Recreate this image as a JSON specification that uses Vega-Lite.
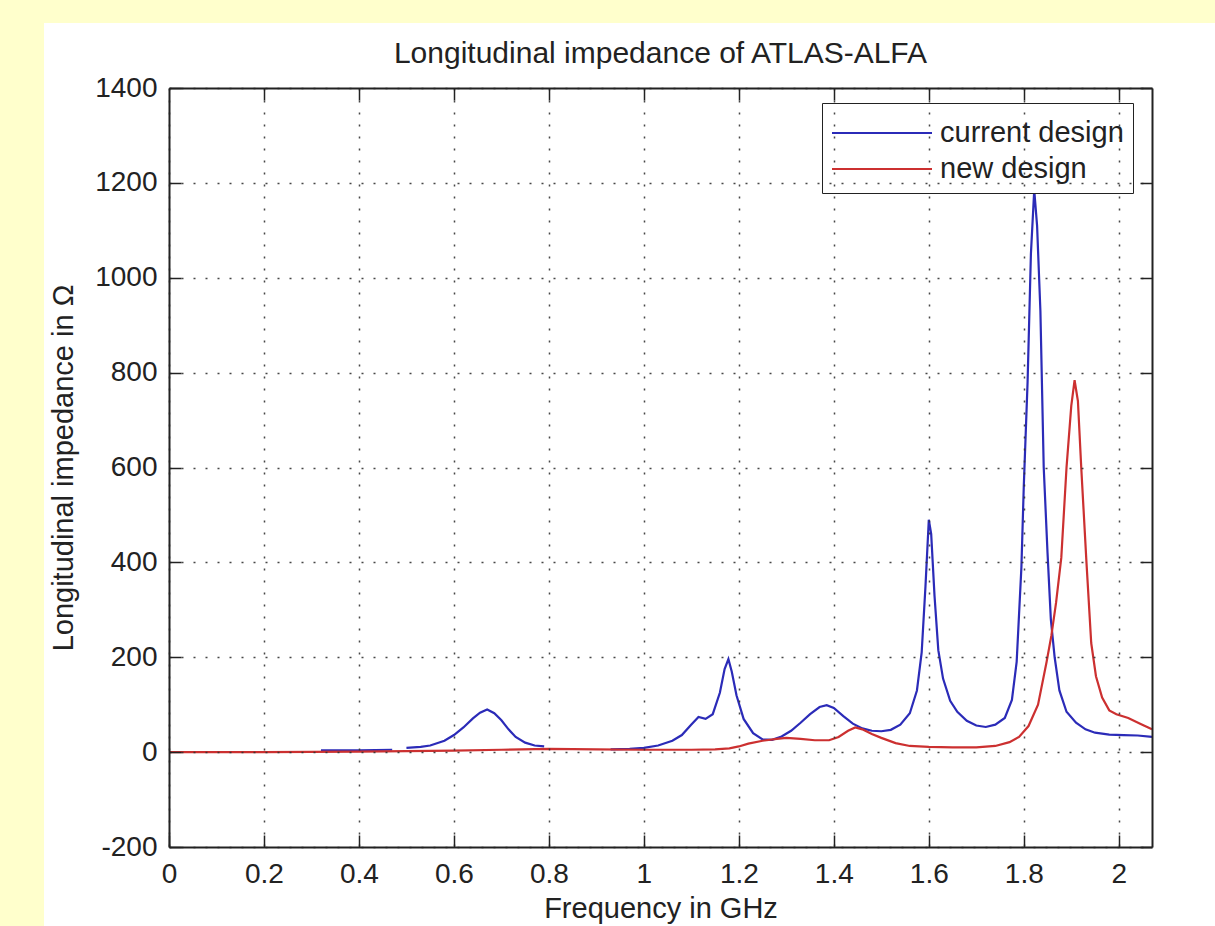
{
  "$schema": "https://vega.github.io/schema/vega-lite/v6.json",
  "autosize": "none",
  "width": 983,
  "height": 759,
  "padding": {"left": 169, "top": 88, "right": 63, "bottom": 79},
  "background": "#FFFFCC",
  "title": {"text": "Longitudinal impedance of ATLAS-ALFA", "fontSize": 30, "font": "Liberation Sans", "fontWeight": "normal", "color": "#222222", "baseline": "alphabetic", "offset": -70, "anchor": "middle"},
  "config": {
    "view": {"stroke": null},
    "axis": {"labelFont": "Liberation Sans", "titleFont": "Liberation Sans", "labelFontSize": 28, "titleFontSize": 29, "titleFontWeight": "normal", "labelColor": "#222222", "titleColor": "#222222", "domainColor": "#222222", "domainWidth": 2, "tickColor": "#222222", "tickWidth": 1.5, "tickSize": -12, "gridColor": "#333333", "gridWidth": 1.5, "gridDash": [2, 10], "gridOpacity": 0.9}
  },
  "datasets": {
    "curves": [
      {"series": "current design", "seg": 1, "f": 0.32, "z": 4},
      {"series": "current design", "seg": 1, "f": 0.40, "z": 4},
      {"series": "current design", "seg": 1, "f": 0.47, "z": 5},
      {"series": "current design", "seg": 2, "f": 0.50, "z": 9},
      {"series": "current design", "seg": 2, "f": 0.53, "z": 11},
      {"series": "current design", "seg": 2, "f": 0.55, "z": 14},
      {"series": "current design", "seg": 2, "f": 0.58, "z": 24},
      {"series": "current design", "seg": 2, "f": 0.60, "z": 36},
      {"series": "current design", "seg": 2, "f": 0.62, "z": 52},
      {"series": "current design", "seg": 2, "f": 0.64, "z": 71},
      {"series": "current design", "seg": 2, "f": 0.655, "z": 83},
      {"series": "current design", "seg": 2, "f": 0.67, "z": 90},
      {"series": "current design", "seg": 2, "f": 0.685, "z": 82},
      {"series": "current design", "seg": 2, "f": 0.70, "z": 67},
      {"series": "current design", "seg": 2, "f": 0.715, "z": 48},
      {"series": "current design", "seg": 2, "f": 0.73, "z": 32},
      {"series": "current design", "seg": 2, "f": 0.75, "z": 20},
      {"series": "current design", "seg": 2, "f": 0.77, "z": 14},
      {"series": "current design", "seg": 2, "f": 0.79, "z": 12},
      {"series": "current design", "seg": 3, "f": 0.93, "z": 6},
      {"series": "current design", "seg": 3, "f": 0.97, "z": 7},
      {"series": "current design", "seg": 3, "f": 1.00, "z": 9},
      {"series": "current design", "seg": 3, "f": 1.03, "z": 14},
      {"series": "current design", "seg": 3, "f": 1.06, "z": 24},
      {"series": "current design", "seg": 3, "f": 1.08, "z": 36},
      {"series": "current design", "seg": 3, "f": 1.10, "z": 58},
      {"series": "current design", "seg": 3, "f": 1.115, "z": 74},
      {"series": "current design", "seg": 3, "f": 1.13, "z": 70},
      {"series": "current design", "seg": 3, "f": 1.145, "z": 80},
      {"series": "current design", "seg": 3, "f": 1.16, "z": 125},
      {"series": "current design", "seg": 3, "f": 1.17, "z": 175},
      {"series": "current design", "seg": 3, "f": 1.178, "z": 196},
      {"series": "current design", "seg": 3, "f": 1.185, "z": 170},
      {"series": "current design", "seg": 3, "f": 1.195, "z": 120},
      {"series": "current design", "seg": 3, "f": 1.21, "z": 70},
      {"series": "current design", "seg": 3, "f": 1.23, "z": 40},
      {"series": "current design", "seg": 3, "f": 1.25, "z": 27},
      {"series": "current design", "seg": 3, "f": 1.27, "z": 26},
      {"series": "current design", "seg": 3, "f": 1.29, "z": 33},
      {"series": "current design", "seg": 3, "f": 1.31, "z": 45},
      {"series": "current design", "seg": 3, "f": 1.33, "z": 62},
      {"series": "current design", "seg": 3, "f": 1.35, "z": 80},
      {"series": "current design", "seg": 3, "f": 1.37, "z": 95},
      {"series": "current design", "seg": 3, "f": 1.385, "z": 99},
      {"series": "current design", "seg": 3, "f": 1.40, "z": 93},
      {"series": "current design", "seg": 3, "f": 1.42, "z": 76},
      {"series": "current design", "seg": 3, "f": 1.44, "z": 60},
      {"series": "current design", "seg": 3, "f": 1.46, "z": 50},
      {"series": "current design", "seg": 3, "f": 1.48, "z": 45},
      {"series": "current design", "seg": 3, "f": 1.50, "z": 44},
      {"series": "current design", "seg": 3, "f": 1.52, "z": 47},
      {"series": "current design", "seg": 3, "f": 1.54, "z": 58},
      {"series": "current design", "seg": 3, "f": 1.56, "z": 82},
      {"series": "current design", "seg": 3, "f": 1.575, "z": 130},
      {"series": "current design", "seg": 3, "f": 1.585, "z": 210},
      {"series": "current design", "seg": 3, "f": 1.593, "z": 350},
      {"series": "current design", "seg": 3, "f": 1.600, "z": 490},
      {"series": "current design", "seg": 3, "f": 1.605, "z": 460},
      {"series": "current design", "seg": 3, "f": 1.612, "z": 330},
      {"series": "current design", "seg": 3, "f": 1.62, "z": 215},
      {"series": "current design", "seg": 3, "f": 1.63, "z": 155},
      {"series": "current design", "seg": 3, "f": 1.645, "z": 108},
      {"series": "current design", "seg": 3, "f": 1.66, "z": 85},
      {"series": "current design", "seg": 3, "f": 1.68, "z": 66},
      {"series": "current design", "seg": 3, "f": 1.70, "z": 56},
      {"series": "current design", "seg": 3, "f": 1.72, "z": 53},
      {"series": "current design", "seg": 3, "f": 1.74, "z": 58},
      {"series": "current design", "seg": 3, "f": 1.76, "z": 72},
      {"series": "current design", "seg": 3, "f": 1.775, "z": 110},
      {"series": "current design", "seg": 3, "f": 1.785, "z": 190},
      {"series": "current design", "seg": 3, "f": 1.795, "z": 390},
      {"series": "current design", "seg": 3, "f": 1.80, "z": 560},
      {"series": "current design", "seg": 3, "f": 1.808, "z": 780},
      {"series": "current design", "seg": 3, "f": 1.815, "z": 1050},
      {"series": "current design", "seg": 3, "f": 1.822, "z": 1185},
      {"series": "current design", "seg": 3, "f": 1.828, "z": 1110},
      {"series": "current design", "seg": 3, "f": 1.835, "z": 930},
      {"series": "current design", "seg": 3, "f": 1.842, "z": 600},
      {"series": "current design", "seg": 3, "f": 1.85, "z": 420},
      {"series": "current design", "seg": 3, "f": 1.857, "z": 280},
      {"series": "current design", "seg": 3, "f": 1.865, "z": 200},
      {"series": "current design", "seg": 3, "f": 1.875, "z": 130},
      {"series": "current design", "seg": 3, "f": 1.89, "z": 85},
      {"series": "current design", "seg": 3, "f": 1.91, "z": 62},
      {"series": "current design", "seg": 3, "f": 1.93, "z": 48},
      {"series": "current design", "seg": 3, "f": 1.95, "z": 41},
      {"series": "current design", "seg": 3, "f": 1.98, "z": 37},
      {"series": "current design", "seg": 3, "f": 2.01, "z": 36},
      {"series": "current design", "seg": 3, "f": 2.04, "z": 35},
      {"series": "current design", "seg": 3, "f": 2.07, "z": 32},
      {"series": "new design", "seg": 4, "f": 0.0, "z": 0},
      {"series": "new design", "seg": 4, "f": 0.2, "z": 0},
      {"series": "new design", "seg": 4, "f": 0.4, "z": 1},
      {"series": "new design", "seg": 4, "f": 0.5, "z": 2},
      {"series": "new design", "seg": 4, "f": 0.6, "z": 3},
      {"series": "new design", "seg": 4, "f": 0.7, "z": 5},
      {"series": "new design", "seg": 4, "f": 0.8, "z": 7},
      {"series": "new design", "seg": 4, "f": 0.9, "z": 6},
      {"series": "new design", "seg": 4, "f": 1.0, "z": 5},
      {"series": "new design", "seg": 4, "f": 1.1, "z": 5},
      {"series": "new design", "seg": 4, "f": 1.15, "z": 6},
      {"series": "new design", "seg": 4, "f": 1.18, "z": 8},
      {"series": "new design", "seg": 4, "f": 1.2, "z": 12},
      {"series": "new design", "seg": 4, "f": 1.22, "z": 18},
      {"series": "new design", "seg": 4, "f": 1.25, "z": 24},
      {"series": "new design", "seg": 4, "f": 1.28, "z": 28},
      {"series": "new design", "seg": 4, "f": 1.3, "z": 30},
      {"series": "new design", "seg": 4, "f": 1.33, "z": 28},
      {"series": "new design", "seg": 4, "f": 1.36, "z": 25},
      {"series": "new design", "seg": 4, "f": 1.39, "z": 25},
      {"series": "new design", "seg": 4, "f": 1.41, "z": 32},
      {"series": "new design", "seg": 4, "f": 1.43, "z": 45},
      {"series": "new design", "seg": 4, "f": 1.445, "z": 52},
      {"series": "new design", "seg": 4, "f": 1.46, "z": 48},
      {"series": "new design", "seg": 4, "f": 1.48, "z": 38},
      {"series": "new design", "seg": 4, "f": 1.5, "z": 30},
      {"series": "new design", "seg": 4, "f": 1.53, "z": 19},
      {"series": "new design", "seg": 4, "f": 1.56, "z": 13},
      {"series": "new design", "seg": 4, "f": 1.6, "z": 11},
      {"series": "new design", "seg": 4, "f": 1.65, "z": 10},
      {"series": "new design", "seg": 4, "f": 1.7, "z": 10},
      {"series": "new design", "seg": 4, "f": 1.74, "z": 13},
      {"series": "new design", "seg": 4, "f": 1.77, "z": 21},
      {"series": "new design", "seg": 4, "f": 1.79, "z": 32},
      {"series": "new design", "seg": 4, "f": 1.81, "z": 55},
      {"series": "new design", "seg": 4, "f": 1.83, "z": 100},
      {"series": "new design", "seg": 4, "f": 1.848, "z": 190},
      {"series": "new design", "seg": 4, "f": 1.858, "z": 245},
      {"series": "new design", "seg": 4, "f": 1.868, "z": 315},
      {"series": "new design", "seg": 4, "f": 1.879, "z": 410},
      {"series": "new design", "seg": 4, "f": 1.89, "z": 600},
      {"series": "new design", "seg": 4, "f": 1.9, "z": 730},
      {"series": "new design", "seg": 4, "f": 1.907, "z": 784},
      {"series": "new design", "seg": 4, "f": 1.914, "z": 740},
      {"series": "new design", "seg": 4, "f": 1.921, "z": 600},
      {"series": "new design", "seg": 4, "f": 1.932, "z": 400},
      {"series": "new design", "seg": 4, "f": 1.942, "z": 230},
      {"series": "new design", "seg": 4, "f": 1.952, "z": 160},
      {"series": "new design", "seg": 4, "f": 1.965, "z": 115},
      {"series": "new design", "seg": 4, "f": 1.98, "z": 88},
      {"series": "new design", "seg": 4, "f": 1.995, "z": 80},
      {"series": "new design", "seg": 4, "f": 2.02, "z": 72},
      {"series": "new design", "seg": 4, "f": 2.045, "z": 60},
      {"series": "new design", "seg": 4, "f": 2.07, "z": 48}
    ]
  },
  "resolve": {"axis": {"x": "independent", "y": "independent"}},
  "layer": [
    {
      "data": {"values": [{}]},
      "mark": {"type": "rect", "color": "white"},
      "encoding": {
        "x": {"datum": -0.2632, "type": "quantitative", "scale": {"domain": [0, 2.07], "nice": false, "zero": false},
              "axis": {"orient": "top", "labels": false, "grid": false, "title": null, "zindex": 1, "values": [0.2, 0.4, 0.6, 0.8, 1, 1.2, 1.4, 1.6, 1.8, 2]}},
        "x2": {"datum": 2.6},
        "y": {"datum": 1537, "type": "quantitative", "scale": {"domain": [-200, 1400], "nice": false, "zero": false},
              "axis": {"orient": "right", "labels": false, "grid": false, "title": null, "zindex": 1, "values": [-200, 0, 200, 400, 600, 800, 1000, 1200, 1400]}},
        "y2": {"datum": -800}
      }
    },
    {
      "data": {"name": "curves"},
      "mark": {"type": "line", "strokeWidth": 2.2},
      "encoding": {
        "x": {"field": "f", "type": "quantitative", "scale": {"domain": [0, 2.07], "nice": false, "zero": false},
              "axis": {"orient": "bottom", "title": "Frequency in GHz", "format": "~g", "grid": true, "zindex": 1, "values": [0, 0.2, 0.4, 0.6, 0.8, 1, 1.2, 1.4, 1.6, 1.8, 2], "labelPadding": 25, "titleBaseline": "alphabetic", "titlePadding": 29, "labelFlush": false}},
        "y": {"field": "z", "type": "quantitative", "scale": {"domain": [-200, 1400], "nice": false, "zero": false},
              "axis": {"orient": "left", "title": "Longitudinal impedance in Ω", "grid": true, "zindex": 1, "values": [-200, 0, 200, 400, 600, 800, 1000, 1200, 1400], "labelExpr": "datum.value < 0 ? '-' + format(-datum.value, 'd') : format(datum.value, 'd')", "labelPadding": 24, "titleBaseline": "alphabetic", "titlePadding": 22, "labelFlush": false}},
        "color": {"field": "series", "type": "nominal",
                  "scale": {"domain": ["current design", "new design"], "range": ["#2B2BB8", "#CC3030"]},
                  "legend": {"title": null, "orient": "none", "legendX": 653, "legendY": 15, "fillColor": "white", "strokeColor": "#222222", "padding": 9, "labelFont": "Liberation Sans", "labelFontSize": 29, "labelColor": "#222222", "labelLimit": 500, "symbolType": "M-1,0H4", "symbolSize": 1600, "symbolStrokeWidth": 2, "labelOffset": 67, "rowPadding": 0}},
        "detail": {"field": "seg", "type": "nominal"}
      }
    }
  ]
}
